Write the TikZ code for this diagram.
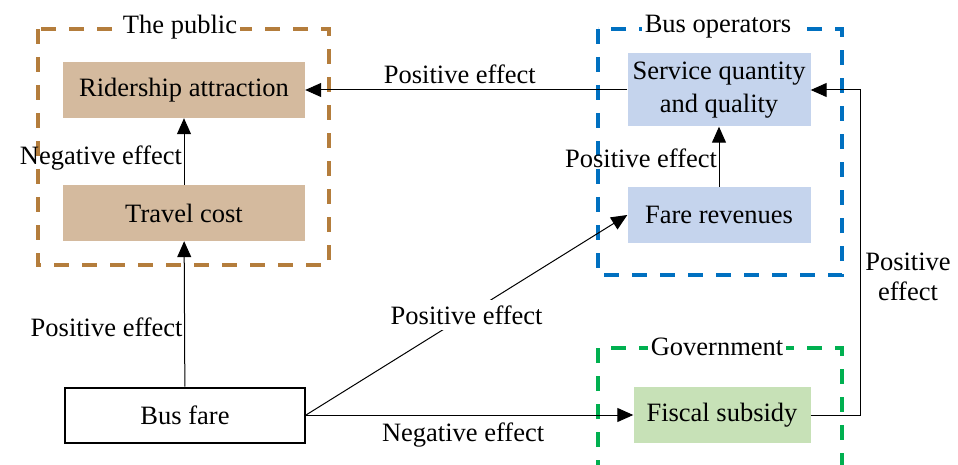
\documentclass[tikz,border=0pt]{standalone}
\usepackage{fontspec}
\setmainfont{Liberation Serif}
\usetikzlibrary{arrows.meta}

\definecolor{publicfill}{RGB}{212,186,158}
\definecolor{publicline}{RGB}{180,125,60}
\definecolor{opfill}{RGB}{197,212,237}
\definecolor{opline}{RGB}{0,112,192}
\definecolor{govfill}{RGB}{199,225,183}
\definecolor{govline}{RGB}{0,176,80}

\begin{document}
\begin{tikzpicture}[x=1pt, y=-1pt,
    txt/.style={font=\fontsize{26.5}{33}\selectfont},
    box/.style={txt, minimum width=242pt, minimum height=56pt, inner sep=0pt},
    lbl/.style={txt, inner sep=1.5pt},
    title/.style={txt, fill=white, inner sep=3pt},
    arr/.style={-{Triangle[length=16pt,width=14pt]}, line width=1pt},
    group/.style={line width=3.2pt, dash pattern=on 15pt off 13pt}]
    \useasboundingbox (0,0) rectangle (958,465);

    % groepen
    \draw[group, publicline] (38,29) rectangle (329,265);
    \draw[group, opline] (598,29) rectangle (842,275);
    \draw[group, govline] (598,475) -- (598,348) -- (842,348) -- (842,475);
    \node[title] (publictitle) at (180,27) {The public};
    \node[title] (optitle) at (718,27) {Bus operators};
    \node[title] (govtitle) at (717,347) {Government};

    \node[box, fill=publicfill] (ride) at (184,90) {Ridership attraction};
    \node[box, fill=publicfill] (cost) at (184,213) {Travel cost};
    \node[box, fill=opfill, minimum width=183pt, minimum height=73pt, align=center] (service) at (719,90) {Service quantity\\and quality};
    \node[box, fill=opfill, minimum width=183pt] (revenue) at (719,215) {Fare revenues};
    \node[box, fill=govfill, minimum width=177pt] (subsidy) at (722,415) {Fiscal subsidy};
    \node[box, draw, line width=2pt, minimum width=240pt, minimum height=55pt] (fare) at (185,415) {Bus fare};

    \draw[arr] (fare) -- (cost) node[lbl, pos=0.41, left] (fcl) {Positive effect};
    \draw[arr] (cost) -- (ride) node[lbl, pos=0.4, left] (crl) {Negative effect};
    \draw[arr] (service) -- (ride) node[lbl, pos=0.52, above=4pt] (srl) {Positive effect};
    \draw[arr] (revenue) -- (service) node[lbl, pos=0.48, left] (rsl) {Positive effect};
    \draw[arr] (fare.east) -- (revenue.west) node[lbl, midway, fill=white, inner sep=6pt] (frl) {Positive effect};
    \draw[arr] (fare) -- (subsidy) node[lbl, pos=0.48, below=6pt] (fsl) {Negative effect};
    \draw[arr] (subsidy.east) -- ++(50,0) |- (service.east);
    \node[lbl, align=center, font=\fontsize{26.5}{30}\selectfont] (ssl) at (908,277) {Positive\\effect};
\end{tikzpicture}
\end{document}
